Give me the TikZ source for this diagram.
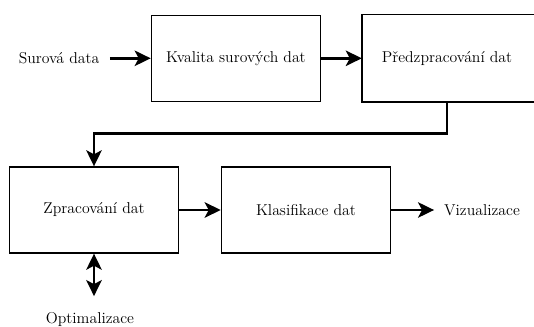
\documentclass[tikz,border=0pt]{standalone}
\usetikzlibrary{arrows.meta}
\begin{document}
\begin{tikzpicture}[x=0.75pt,y=-0.75pt,
    font=\fontsize{11.8}{14}\selectfont,
    box/.style={draw,line width=1pt,minimum width=126.75pt,minimum height=64.5pt,inner sep=0pt},
    arr/.style={line width=2.2pt,-{Stealth[length=12pt,width=11.5pt,inset=3pt]}},
    dblarr/.style={line width=2.2pt,{Stealth[length=12pt,width=11.5pt,inset=3pt]}-{Stealth[length=12pt,width=11.5pt,inset=3pt]}}]
    \useasboundingbox (0,0) rectangle (534,327);
    \node (raw) at (59,58.3) {Surová data};
    \node[box] (kval) at (235.9,58.3) {Kvalita surových dat};
    \node[box,draw=none] (prep) at (447,58.3) {Předzpracování dat};
    \draw[line width=1pt] (prep.north west) rectangle ([xshift=12pt]prep.south east);
    \node[box] (proc) at (94,210) {Zpracování dat};
    \node[box] (klas) at (305.9,210) {Klasifikace dat};
    \node (viz) at (482,210) {Vizualizace};
    \node (opt) at (90,319) {Optimalizace};
    \draw[arr,shorten <=4.5pt] (raw) -- (kval);
    \draw[arr] (kval) -- (prep);
    \draw[arr] (prep.south) -- ++(0,32) -| (proc.north);
    \draw[arr] (proc) -- (klas);
    \draw[arr,shorten >=4pt] (klas) -- (viz);
    \draw[dblarr] (proc.south) -- ++(0,42.5);
  \end{tikzpicture}
\end{document}
